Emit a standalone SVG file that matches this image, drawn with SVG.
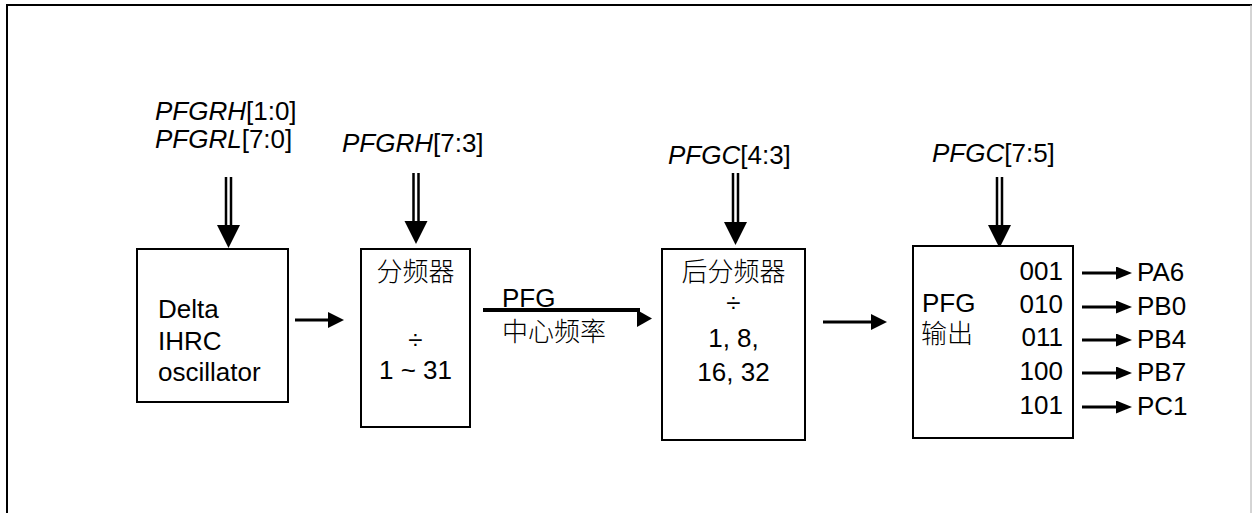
<svg xmlns="http://www.w3.org/2000/svg" width="1252" height="513" viewBox="0 0 1252 513">
<defs>
<style>
.frame{fill:none;stroke:#000;stroke-width:2}
.box{fill:#fff;stroke:#000;stroke-width:2}
.t{font-family:"Liberation Sans",Arial,sans-serif;font-size:26px;fill:#000}
.i{font-style:italic}
.cjk{font-family:"Liberation Sans","Noto Sans CJK SC",sans-serif;font-size:26px;fill:#000;font-weight:300}
.mid{text-anchor:middle}
.end{text-anchor:end}
.dl{stroke:#000;stroke-width:2.5;fill:none}
.conn{stroke:#000;stroke-width:3;fill:none}
.head{fill:#000}
</style>
<marker id="ah" markerUnits="userSpaceOnUse" markerWidth="16" markerHeight="16" viewBox="0 0 16 16" refX="0" refY="8" orient="auto">
<path d="M0,0 L16,8 L0,16 z" fill="#000"/>
</marker>
<marker id="ahs" markerUnits="userSpaceOnUse" markerWidth="16" markerHeight="13" viewBox="0 0 16 13" refX="0" refY="6.5" orient="auto">
<path d="M0,0 L16,6.5 L0,13 z" fill="#000"/>
</marker>
</defs>
<rect width="1252" height="513" fill="#fff"/>
<path class="frame" d="M7,513 V5 H1252"/>
<line x1="1251" y1="5" x2="1251" y2="513" stroke="#aaa" stroke-width="1"/>

<g id="ctl1">
<text class="t" x="155" y="120"><tspan class="i">PFGRH</tspan>[1:0]</text>
<text class="t" x="155" y="148"><tspan class="i">PFGRL</tspan>[7:0]</text>
<path class="dl" d="M226,177 V226 M231,177 V226"/>
<polygon class="head" points="217,225 240,225 228.5,248"/>
</g>
<g id="ctl2">
<text class="t" x="342" y="152"><tspan class="i">PFGRH</tspan>[7:3]</text>
<path class="dl" d="M413.5,173 V222 M418.5,173 V222"/>
<polygon class="head" points="404.5,221 427.5,221 416,244"/>
</g>
<g id="ctl3">
<text class="t" x="668" y="164"><tspan class="i">PFGC</tspan>[4:3]</text>
<path class="dl" d="M733,173 V223 M738,173 V223"/>
<polygon class="head" points="724,222 747,222 735.5,245"/>
</g>
<g id="ctl4">
<text class="t" x="932" y="162"><tspan class="i">PFGC</tspan>[7:5]</text>
<path class="dl" d="M997,177 V226 M1002,177 V226"/>
<polygon class="head" points="988,225 1011,225 999.5,248"/>
</g>

<g id="osc">
<rect class="box" x="137" y="249" width="151" height="153"/>
<text class="t" x="158" y="318">Delta</text>
<text class="t" x="158" y="350">IHRC</text>
<text class="t" x="158" y="381">oscillator</text>
</g>
<g id="div">
<rect class="box" x="361" y="249" width="109" height="178"/>
<text class="cjk mid" x="415.5" y="281">分频器</text>
<text class="t mid" x="415.5" y="349">÷</text>
<text class="t mid" x="415.5" y="379">1 ~ 31</text>
</g>
<g id="postdiv">
<rect class="box" x="662" y="249" width="143" height="191"/>
<text class="cjk mid" x="733.5" y="281">后分频器</text>
<text class="t mid" x="733.5" y="312">÷</text>
<text class="t mid" x="733.5" y="347">1, 8,</text>
<text class="t mid" x="733.5" y="381">16, 32</text>
</g>
<g id="out">
<rect class="box" x="913" y="246" width="160" height="192"/>
<text class="t" x="922" y="312">PFG</text>
<text class="cjk" x="921" y="343">输出</text>
<text class="t end" x="1063" y="280">001</text>
<text class="t end" x="1063" y="313">010</text>
<text class="t end" x="1063" y="346">011</text>
<text class="t end" x="1063" y="380">100</text>
<text class="t end" x="1063" y="414">101</text>
</g>
<g id="pins">
<text class="t" x="1137" y="281">PA6</text>
<text class="t" x="1137" y="315">PB0</text>
<text class="t" x="1137" y="348">PB4</text>
<text class="t" x="1137" y="381">PB7</text>
<text class="t" x="1137" y="415">PC1</text>
</g>
<g id="label-pfg">
<text class="t" x="502" y="307">PFG</text>
<text class="cjk" x="502" y="341">中心频率</text>
</g>

<g id="connectors">
<line class="conn" x1="295" y1="320" x2="328" y2="320" marker-end="url(#ah)"/>
<line x1="483" y1="310" x2="640" y2="310" stroke="#000" stroke-width="4"/>
<polygon class="head" points="637,310 637,327 652,318.5"/>
<line class="conn" x1="823" y1="322" x2="871" y2="322" marker-end="url(#ah)"/>
<line class="conn" x1="1082" y1="273" x2="1116" y2="273" marker-end="url(#ahs)"/>
<line class="conn" x1="1082" y1="307" x2="1116" y2="307" marker-end="url(#ahs)"/>
<line class="conn" x1="1082" y1="340" x2="1116" y2="340" marker-end="url(#ahs)"/>
<line class="conn" x1="1082" y1="373" x2="1116" y2="373" marker-end="url(#ahs)"/>
<line class="conn" x1="1082" y1="407" x2="1116" y2="407" marker-end="url(#ahs)"/>
</g>
</svg>
